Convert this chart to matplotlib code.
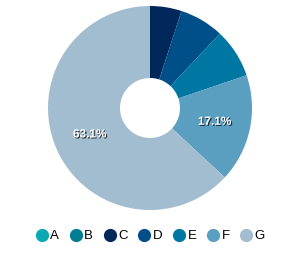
import numpy as np
import matplotlib.pyplot as plt
import matplotlib.patheffects as pe
from matplotlib.lines import Line2D

plt.rcParams['font.family'] = ['Liberation Sans', 'DejaVu Sans']

labels = ['A', 'B', 'C', 'D', 'E', 'F', 'G']
values = [0.0, 0.0, 5.0, 7.0, 7.8, 17.1, 63.1]
colors = ['#0aa9b3', '#007d92', '#00285a', '#004f88', '#0076a3', '#5a9ec0', '#a2bdd0']

fig = plt.figure(figsize=(3, 2.54), dpi=100)
ax = fig.add_axes([48 / 300, 1 - 210 / 254, 204 / 300, 204 / 254])

wedges, _ = ax.pie(values, colors=colors, startangle=90, counterclock=False,
                   radius=1.0, wedgeprops=dict(width=1 - 30 / 102, linewidth=0))
ax.set_xlim(-1, 1)
ax.set_ylim(-1, 1)
ax.set_aspect('equal')

# labels only on the big slices
total = sum(values)
start = 0.0
mid_r = (1 + 30 / 102) / 2
for v in values:
    if v / total > 0.1:
        a = np.deg2rad(start + v / total * 180)  # clockwise from top
        x, y = mid_r * np.sin(a), mid_r * np.cos(a)
        ax.text(x, y, f'{v / total * 100:.1f}%', ha='center', va='center',
                color='white', fontsize=8.5, fontweight='bold',
                path_effects=[pe.withSimplePatchShadow(offset=(0.8, -0.8), shadow_rgbFace='black', alpha=0.7)])
    start += v / total * 360

handles = [Line2D([], [], marker='o', linestyle='', markersize=9.5, markerfacecolor=c,
                  markeredgewidth=0) for c in colors]
fig.legend(handles, labels, loc='center', bbox_to_anchor=(0.5, 18 / 254), ncol=7,
           frameon=False, fontsize=9.5, handletextpad=0.15, columnspacing=0.75,
           handlelength=1.0)

fig.savefig('out.png', dpi=100)
